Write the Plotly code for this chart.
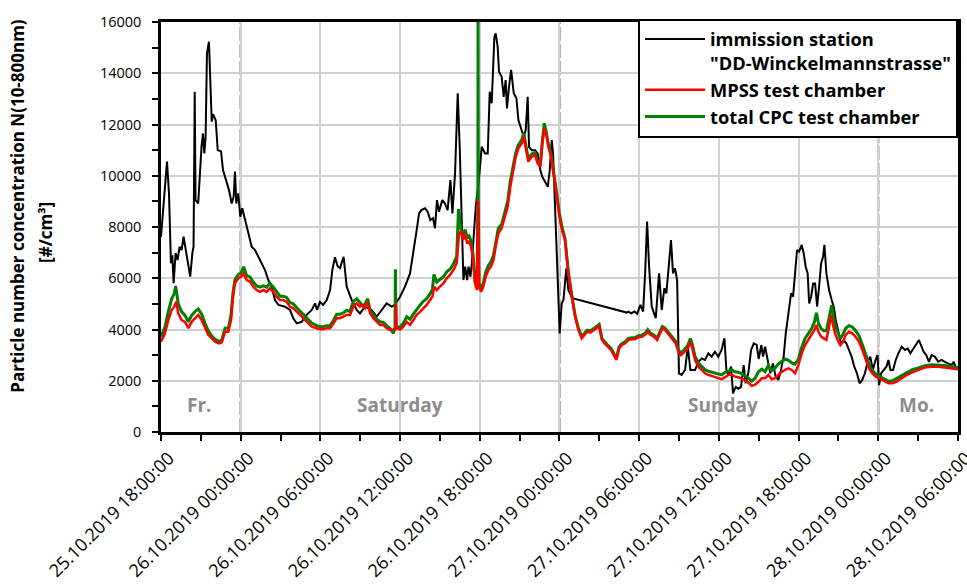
import pandas as pd
import plotly.graph_objects as go

# Time axis: hours after 25.10.2019 18:00
START = pd.Timestamp("2019-10-25 18:00:00")

# Immission station "DD-Winckelmannstrasse"
station_h = [0.0, 0.45, 0.6, 0.75, 0.85, 0.95, 1.1, 1.25, 1.4, 1.55, 1.7, 1.86, 2.0, 2.2, 2.36, 2.45,
             2.54, 2.6, 2.8, 2.96, 3.05, 3.16, 3.26, 3.36, 3.46, 3.61, 3.71, 3.82, 3.92, 4.12, 4.27,
             4.52, 4.67, 4.92, 5.12, 5.32, 5.47, 5.57, 5.67, 5.82, 5.97, 6.12, 6.33, 6.58, 6.83, 7.08,
             7.33, 7.58, 7.83, 8.08, 8.33, 8.58, 8.84, 9.34, 9.71, 9.96, 10.22, 10.6, 10.97, 11.35,
             11.6, 11.75, 11.97, 12.2, 12.48, 12.73, 12.9, 13.1, 13.3, 13.48, 13.75, 13.98, 14.36,
             14.73, 14.98, 15.36, 15.86, 16.24, 16.62, 16.99, 17.37, 17.6, 18.0, 18.37, 18.75, 19.08,
             19.25, 19.43, 19.6, 19.88, 20.08, 20.28, 20.48, 20.63, 20.78, 20.93, 21.18, 21.38, 21.58,
             21.79, 21.94, 22.14, 22.34, 22.49, 22.64, 22.77, 22.9, 23.05, 23.15, 23.3, 23.4, 23.55,
             23.7, 23.95, 24.15, 24.4, 24.6, 24.75, 24.9, 25.1, 25.2, 25.35, 25.45, 25.65, 25.8,
             25.95, 26.05, 26.2, 26.36, 26.56, 26.76, 26.91, 27.16, 27.31, 27.46, 27.61, 27.71,
             27.91, 28.16, 28.36, 28.56, 28.71, 28.91, 29.12, 29.27, 29.42, 29.52, 29.67, 29.87,
             30.02, 30.17, 30.3, 30.52, 30.67, 30.97, 35.07, 35.2, 35.4, 35.65, 35.85, 36.1, 36.3,
             36.45, 36.6, 36.75, 36.95, 37.25, 37.5, 37.7, 37.9, 38.05, 38.25, 38.4, 38.55, 38.7,
             38.86, 39.0, 39.2, 39.46, 39.66, 39.86, 40.21, 40.46, 40.71, 40.96, 41.21, 41.46,
             41.71, 41.96, 42.21, 42.42, 42.57, 42.72, 42.92, 43.07, 43.27, 43.47, 43.67, 43.87,
             44.02, 44.22, 44.43, 44.63, 44.85, 45.0, 45.2, 45.33, 45.48, 45.68, 45.88, 46.08,
             46.28, 46.48, 46.68, 46.88, 47.04, 47.24, 47.44, 47.59, 47.74, 47.89, 48.04, 48.24,
             48.39, 48.54, 48.69, 48.8, 48.95, 49.1, 49.25, 49.4, 49.55, 49.7, 49.85, 49.95, 50.1,
             50.3, 50.5, 50.65, 50.8, 51.0, 51.2, 51.4, 51.6, 51.8, 52.0, 52.2, 52.4, 52.6, 52.8,
             53.0, 53.2, 53.4, 53.6, 53.8, 53.95, 54.07, 54.22, 54.42, 54.62, 54.77, 54.92, 55.12,
             55.32, 55.52, 55.77, 56.02, 56.22, 56.42, 56.67, 56.87, 57.07, 57.22, 57.42, 57.62,
             57.82, 58.02, 58.27, 58.52, 58.77, 59.02, 59.27, 59.53, 59.68, 59.88, 60.0]
station_v = [7620, 10550, 9325, 6590, 6900, 5810, 6980, 6710, 7230, 7100, 7620, 7100, 6710, 6060, 6970,
             7230, 13280, 9050, 8920, 10740, 11130, 11650, 10870, 11520, 14780, 15230, 13470, 12110,
             12400, 12170, 11000, 10950, 10220, 9830, 9440, 8920, 9180, 10160, 8920, 9310, 8400, 8730,
             8270, 7750, 7230, 7100, 6840, 6580, 6320, 5930, 5670, 5150, 4960, 4890, 4760, 4440, 4240,
             4300, 4570, 4760, 5020, 4760, 5080, 4960, 5150, 5540, 6320, 6820, 6470, 6400, 6840, 5670,
             5150, 4760, 4630, 4890, 4760, 4500, 4760, 5020, 4890, 4960, 5280, 5670, 6190, 7230, 7880,
             8530, 8660, 8730, 8600, 8270, 8340, 7950, 9050, 8600, 9050, 8920, 8660, 9830, 8530, 10090,
             13220, 11130, 8790, 5930, 6450, 5930, 6450, 6060, 6580, 7750, 8790, 9960, 11130, 10870,
             10870, 13280, 12830, 15420, 15560, 15030, 14060, 13860, 13080, 13730, 12630, 13470,
             14130, 13220, 13020, 12170, 11780, 11520, 11780, 13080, 11130, 11000, 11000, 10870,
             10220, 9960, 9770, 9570, 10220, 11390, 10870, 8790, 6710, 3850, 5020, 5150, 6390, 5540,
             5220, 4660, 4700, 4630, 4700, 4610, 4960, 4700, 6190, 8210, 6450, 4890, 4440, 6190,
             4760, 5610, 5410, 6650, 7490, 6190, 6390, 5930, 2290, 2230, 2420, 3330, 2420, 2420,
             2740, 2870, 2810, 3070, 2940, 3130, 2940, 3200, 3660, 2420, 2230, 2550, 1510, 1760,
             1690, 1760, 2610, 1900, 2290, 3200, 3460, 3400, 2850, 3390, 2940, 3330, 2810, 2290,
             2680, 2160, 2030, 2420, 2940, 3850, 4630, 5410, 5280, 6190, 7100, 7040, 7300, 6970,
             6450, 6190, 5020, 5280, 5800, 5800, 4890, 5670, 6580, 6840, 7300, 6190, 5540, 5150,
             4890, 4370, 3850, 3460, 3590, 3460, 3200, 2940, 2550, 2290, 1900, 2030, 2290, 2740,
             2940, 2420, 2810, 3000, 1830, 2290, 2420, 2550, 2810, 2420, 2420, 2810, 3070, 3330,
             3200, 3260, 3070, 3260, 3390, 3590, 3390, 3130, 3000, 2740, 3000, 2940, 2740, 2810,
             2740, 2680, 2610, 2740, 2480, 2500]

# MPSS test chamber
mpss_h = [0.0, 0.3, 0.55, 0.8, 1.0, 1.15, 1.3, 1.55, 1.81, 2.06, 2.31, 2.56, 2.81, 3.06, 3.31, 3.56,
          3.82, 4.07, 4.37, 4.57, 4.82, 5.07, 5.27, 5.42, 5.57, 5.82, 6.02, 6.22, 6.45, 6.7, 6.95,
          7.2, 7.45, 7.7, 7.95, 8.2, 8.46, 8.71, 8.96, 9.21, 9.46, 9.71, 9.96, 10.22, 10.6, 10.97,
          11.35, 11.73, 12.1, 12.48, 12.73, 12.98, 13.23, 13.48, 13.73, 13.98, 14.23, 14.48, 14.73,
          14.98, 15.11, 15.36, 15.56, 15.74, 15.99, 16.24, 16.49, 16.74, 16.99, 17.24, 17.5, 17.65,
          17.7, 17.75, 18.0, 18.25, 18.5, 18.75, 19.0, 19.25, 19.5, 19.75, 20.0, 20.26, 20.43,
          20.58, 20.76, 21.0, 21.26, 21.51, 21.76, 22.01, 22.26, 22.44, 22.59, 22.74, 22.9, 23.05,
          23.2, 23.35, 23.5, 23.64, 23.8, 23.87, 23.95, 24.1, 24.27, 24.45, 24.65, 24.85, 25.03,
          25.2, 25.4, 25.65, 25.9, 26.1, 26.3, 26.5, 26.71, 26.91, 27.16, 27.31, 27.46, 27.66,
          27.91, 28.16, 28.36, 28.56, 28.71, 28.86, 29.01, 29.16, 29.37, 29.57, 29.77, 29.97,
          30.17, 30.42, 30.67, 30.93, 31.18, 31.43, 31.68, 31.88, 32.08, 32.33, 32.58, 32.84,
          32.99, 33.2, 33.39, 33.64, 33.89, 34.09, 34.29, 34.49, 34.69, 34.94, 35.19, 35.44,
          35.69, 35.95, 36.2, 36.45, 36.65, 36.85, 37.1, 37.35, 37.55, 37.75, 37.95, 38.15,
          38.35, 38.55, 38.76, 38.96, 39.16, 39.41, 39.66, 39.86, 40.01, 40.21, 40.46, 40.71,
          40.96, 41.21, 41.46, 41.71, 41.96, 42.21, 42.47, 42.72, 42.97, 43.22, 43.47, 43.72,
          43.97, 44.22, 44.47, 44.73, 44.98, 45.23, 45.48, 45.73, 45.98, 46.23, 46.48, 46.74,
          46.99, 47.24, 47.49, 47.74, 47.99, 48.24, 48.49, 48.75, 49.0, 49.2, 49.35, 49.5, 49.7,
          49.9, 50.1, 50.3, 50.45, 50.6, 50.75, 50.95, 51.15, 51.35, 51.55, 51.8, 52.05, 52.3,
          52.56, 52.81, 53.06, 53.31, 53.56, 53.82, 54.07, 54.4, 54.77, 55.07, 55.4, 55.77,
          56.15, 56.52, 57.02, 57.52, 58.02, 58.52, 59.02, 59.53, 60.0]
mpss_v = [3520, 3850, 4370, 4760, 4890, 5080, 4630, 4370, 4300, 4050, 4300, 4440, 4570, 4370, 4050,
          3790, 3650, 3520, 3460, 3490, 3910, 3910, 4370, 5280, 5800, 6000, 6060, 6190, 5930, 5870,
          5670, 5540, 5470, 5540, 5470, 5610, 5470, 5280, 5150, 5150, 5080, 4890, 4830, 4690, 4500,
          4300, 4110, 4050, 4000, 4050, 4050, 4240, 4440, 4440, 4500, 4570, 4570, 4890, 5020, 4890,
          4960, 4830, 5080, 4630, 4440, 4300, 4180, 4180, 4050, 3980, 4000, 4000, 5020, 4050, 4000,
          4110, 4300, 4180, 4370, 4570, 4690, 4830, 4960, 5150, 5280, 5670, 5540, 5670, 5800, 6000,
          6130, 6320, 6580, 7750, 7820, 7490, 7750, 7360, 7430, 7230, 6710, 5800, 5540, 9050, 5670,
          5470, 5670, 6060, 6320, 6450, 6710, 7230, 7750, 7950, 8400, 8790, 9570, 10220, 10740,
          11070, 11260, 11520, 11130, 10550, 10740, 10810, 10480, 10350, 11260, 11850, 11590,
          11130, 10740, 10090, 9310, 8530, 7900, 7490, 6190, 5280, 4500, 3980, 3660, 3790, 3910,
          3880, 3980, 4050, 4140, 3600, 3460, 3330, 3200, 3000, 2810, 3260, 3390, 3460, 3590,
          3620, 3620, 3700, 3720, 3790, 3910, 3790, 3720, 3590, 3790, 4050, 3980, 3850, 3720,
          3590, 3460, 3130, 3000, 3130, 3260, 3520, 3260, 2810, 2550, 2420, 2290, 2230, 2190,
          2140, 2100, 2060, 2140, 2230, 2230, 2160, 2140, 2100, 2030, 1930, 1800, 1850, 1950,
          2100, 2100, 2230, 2060, 2100, 2230, 2350, 2420, 2480, 2420, 2290, 2610, 3070, 3390,
          3590, 3790, 3980, 4180, 3910, 3720, 3660, 3590, 4110, 4570, 4180, 3850, 3590, 3390,
          3520, 3790, 3910, 3850, 3720, 3520, 3200, 2810, 2480, 2290, 2160, 2100, 2010, 1900,
          1900, 1970, 2100, 2230, 2320, 2420, 2520, 2550, 2550, 2520, 2480, 2450]

# Total CPC test chamber
cpc_h = [0.0, 0.3, 0.55, 0.8, 1.0, 1.1, 1.3, 1.55, 1.81, 2.06, 2.31, 2.56, 2.81, 3.06, 3.31, 3.56,
         3.82, 4.07, 4.37, 4.57, 4.82, 5.07, 5.27, 5.42, 5.57, 5.82, 6.02, 6.22, 6.45, 6.7, 6.95,
         7.2, 7.45, 7.7, 7.95, 8.2, 8.46, 8.71, 8.96, 9.21, 9.46, 9.71, 9.96, 10.22, 10.6, 10.97,
         11.35, 11.73, 12.1, 12.48, 12.73, 12.98, 13.23, 13.48, 13.73, 13.98, 14.23, 14.48, 14.73,
         14.98, 15.24, 15.36, 15.56, 15.74, 15.99, 16.24, 16.49, 16.74, 16.99, 17.24, 17.5, 17.62,
         17.65, 17.68, 18.0, 18.25, 18.5, 18.75, 19.0, 19.25, 19.5, 19.75, 20.0, 20.26, 20.43,
         20.55, 20.76, 21.0, 21.26, 21.51, 21.76, 22.01, 22.26, 22.4, 22.59, 22.74, 22.9, 23.05,
         23.2, 23.35, 23.5, 23.64, 23.8, 23.86, 23.87, 23.89, 23.95, 24.1, 24.27, 24.45, 24.65,
         24.85, 25.03, 25.2, 25.4, 25.65, 25.9, 26.1, 26.3, 26.5, 26.71, 26.91, 27.16, 27.31,
         27.46, 27.66, 27.91, 28.16, 28.36, 28.56, 28.71, 28.86, 29.01, 29.16, 29.37, 29.57,
         29.77, 29.97, 30.17, 30.42, 30.67, 30.93, 31.18, 31.43, 31.68, 31.88, 32.08, 32.33,
         32.58, 32.84, 32.99, 33.2, 33.39, 33.64, 33.89, 34.09, 34.29, 34.49, 34.69, 34.94,
         35.19, 35.44, 35.69, 35.95, 36.2, 36.45, 36.65, 36.85, 37.1, 37.35, 37.55, 37.75,
         37.95, 38.15, 38.35, 38.55, 38.76, 38.96, 39.16, 39.41, 39.66, 39.86, 40.01, 40.21,
         40.46, 40.71, 40.96, 41.21, 41.46, 41.71, 41.96, 42.21, 42.47, 42.72, 42.97, 43.22,
         43.47, 43.72, 43.97, 44.22, 44.47, 44.73, 44.98, 45.23, 45.48, 45.73, 45.98, 46.23,
         46.48, 46.74, 46.99, 47.24, 47.49, 47.74, 47.99, 48.24, 48.49, 48.75, 49.0, 49.2,
         49.35, 49.5, 49.7, 49.9, 50.1, 50.3, 50.5, 50.65, 50.8, 50.95, 51.15, 51.35, 51.55,
         51.8, 52.05, 52.3, 52.56, 52.81, 53.06, 53.31, 53.56, 53.82, 54.07, 54.4, 54.77, 55.07,
         55.4, 55.77, 56.15, 56.52, 57.02, 57.52, 58.02, 58.52, 59.02, 59.53, 60.0]
cpc_v = [3700, 4100, 4700, 5200, 5400, 5700, 5000, 4700, 4550, 4300, 4550, 4700, 4800, 4600, 4250,
         3950, 3750, 3620, 3540, 3580, 4050, 4050, 4550, 5450, 5950, 6150, 6200, 6450, 6100, 6050,
         5850, 5700, 5650, 5700, 5650, 5800, 5650, 5450, 5300, 5300, 5250, 5050, 5000, 4850, 4650,
         4450, 4250, 4150, 4100, 4150, 4150, 4350, 4600, 4600, 4650, 4750, 4700, 5100, 5200, 5050,
         4900, 5000, 5200, 4750, 4550, 4400, 4300, 4280, 4150, 4050, 3850, 4100, 6350, 4100, 4100,
         4250, 4500, 4400, 4600, 4800, 4950, 5100, 5200, 5400, 5550, 6150, 5850, 5950, 6050, 6250,
         6350, 6550, 6850, 8700, 7900, 7700, 7900, 7600, 7650, 7450, 6900, 5900, 5650, 9000, 16000,
         9000, 5800, 5600, 5800, 6250, 6500, 6650, 6900, 7400, 7950, 8100, 8600, 9000, 9800, 10400,
         10900, 11200, 11400, 11650, 11250, 10650, 10850, 10900, 10550, 10400, 11350, 12050,
         11700, 11250, 10850, 10200, 9400, 8600, 8050, 7550, 6250, 5350, 4550, 4050, 3720, 3850,
         3970, 3940, 4040, 4110, 4200, 3650, 3520, 3390, 3260, 3060, 2880, 3320, 3450, 3520,
         3650, 3680, 3680, 3760, 3780, 3850, 4000, 3860, 3790, 3660, 3860, 4120, 4050, 3920,
         3790, 3660, 3530, 3200, 3080, 3220, 3380, 3650, 3400, 2950, 2700, 2560, 2430, 2370,
         2330, 2300, 2260, 2230, 2330, 2380, 2420, 2350, 2330, 2280, 2200, 2100, 1980, 2100,
         2350, 2450, 2350, 2600, 2400, 2500, 2650, 2750, 2850, 2800, 2700, 2650, 2850, 3300,
         3650, 3850, 4050, 4300, 4650, 4250, 4050, 3950, 3950, 4450, 4950, 4450, 4100, 3900,
         3650, 3800, 4050, 4150, 4100, 3950, 3750, 3400, 3000, 2650, 2400, 2260, 2180, 2080,
         1980, 2000, 2100, 2220, 2330, 2420, 2500, 2590, 2620, 2620, 2600, 2560, 2520]

# Axis ticks (hours after start) and day markers
tick_h = [0, 6, 12, 18, 24, 30, 36, 42, 48, 54, 60]
minor_tick_h = [3, 9, 15, 21, 27, 33, 39, 45, 51, 57]
y_ticks = [0, 2000, 4000, 6000, 8000, 10000, 12000, 14000, 16000]
day_breaks_h = [6, 30, 54]
day_names = ["Fr.", "Saturday", "Sunday", "Mo."]
day_name_h = [2.86, 18.0, 42.3, 56.9]


def to_time(hours):
    return START + pd.to_timedelta(pd.Series(hours, dtype=float), unit="h")


FONT = "Open Sans"
tick_times = list(to_time(tick_h))
tick_text = [t.strftime("%d.%m.%Y %H:%M:%S") for t in tick_times]
# a hair of slack past the last tick so its label is kept
x_end = START + pd.Timedelta(hours=tick_h[-1]) + pd.Timedelta(seconds=30)

fig = go.Figure()
fig.add_trace(go.Scatter(
    x=to_time(station_h), y=station_v, mode="lines",
    name="<b>immission station<br>\"DD-Winckelmannstrasse\"</b>",
    line=dict(color="#000000", width=2), legendrank=1))
fig.add_trace(go.Scatter(
    x=to_time(cpc_h), y=cpc_v, mode="lines", name="<b>total CPC test chamber</b>",
    line=dict(color="#008000", width=3), legendrank=3))
fig.add_trace(go.Scatter(
    x=to_time(mpss_h), y=mpss_v, mode="lines", name="<b>MPSS test chamber</b>",
    line=dict(color="#ff0000", width=2.5), legendrank=2))

for h in day_breaks_h:
    t = START + pd.Timedelta(hours=h)
    fig.add_shape(type="line", xref="x", yref="paper", x0=t, x1=t, y0=0, y1=1,
                  line=dict(color="#909090", width=2.5, dash="14px,3px"), layer="between")

for name, h in zip(day_names, day_name_h):
    fig.add_annotation(x=START + pd.Timedelta(hours=h), y=1050, text=f"<b>{name}</b>",
                       showarrow=False, font=dict(family=FONT, size=19, color="#8c8c8c"))

# Two-line y-axis title
fig.add_annotation(xref="paper", yref="paper", x=-0.1794, y=0.552, textangle=-90,
                   text="<b>Particle number concentration N(10-800nm)</b>", showarrow=False,
                   xanchor="center", yanchor="middle",
                   font=dict(family=FONT, size=17, color="#000000"))
fig.add_annotation(xref="paper", yref="paper", x=-0.1443, y=0.488, textangle=-90,
                   text="<b>[#/cm³]</b>", showarrow=False, xanchor="center", yanchor="middle",
                   font=dict(family=FONT, size=17, color="#000000"))

fig.update_layout(
    width=967, height=586,
    margin=dict(l=161, r=9, t=22, b=154),
    paper_bgcolor="white", plot_bgcolor="white",
    font=dict(family=FONT, color="#000000"),
    showlegend=True,
    legend=dict(x=1, y=1.008, xanchor="right", yanchor="top", bgcolor="white",
                bordercolor="#000000", borderwidth=2, font=dict(family=FONT, size=18.3),
                itemwidth=60, valign="top", tracegroupgap=0),
)

fig.update_xaxes(
    type="date", range=[START, x_end],
    tickmode="array", tickvals=tick_times, ticktext=tick_text,
    tickangle=-45, tickfont=dict(family=FONT, size=18),
    ticklabelshift=8, ticklabelstandoff=0, ticklabeloverflow="allow",
    ticks="outside", ticklen=6, tickwidth=1.5, tickcolor="#000000",
    showline=True, linecolor="#000000", linewidth=2.5, mirror=True,
    showgrid=True, gridcolor="#d0d0d0", gridwidth=1.5, zeroline=False,
    automargin=False,
    minor=dict(tickmode="array", tickvals=list(to_time(minor_tick_h)), ticks="outside",
               ticklen=6, tickwidth=1.5, tickcolor="#000000", showgrid=False),
)
fig.update_yaxes(
    range=[0, y_ticks[-1]], tickmode="array", tickvals=y_ticks,
    ticktext=[str(v) for v in y_ticks], tickfont=dict(family=FONT, size=14.5),
    ticklabelstandoff=8,
    ticks="outside", ticklen=6, tickwidth=1.5, tickcolor="#000000",
    showline=True, linecolor="#000000", linewidth=2.5, mirror=True,
    showgrid=True, gridcolor="#d0d0d0", gridwidth=1.5, zeroline=False,
    automargin=False,
    minor=dict(dtick=1000, ticks="outside", ticklen=6, tickwidth=1.5,
               tickcolor="#000000", showgrid=False),
)

fig.write_html("out.html")
